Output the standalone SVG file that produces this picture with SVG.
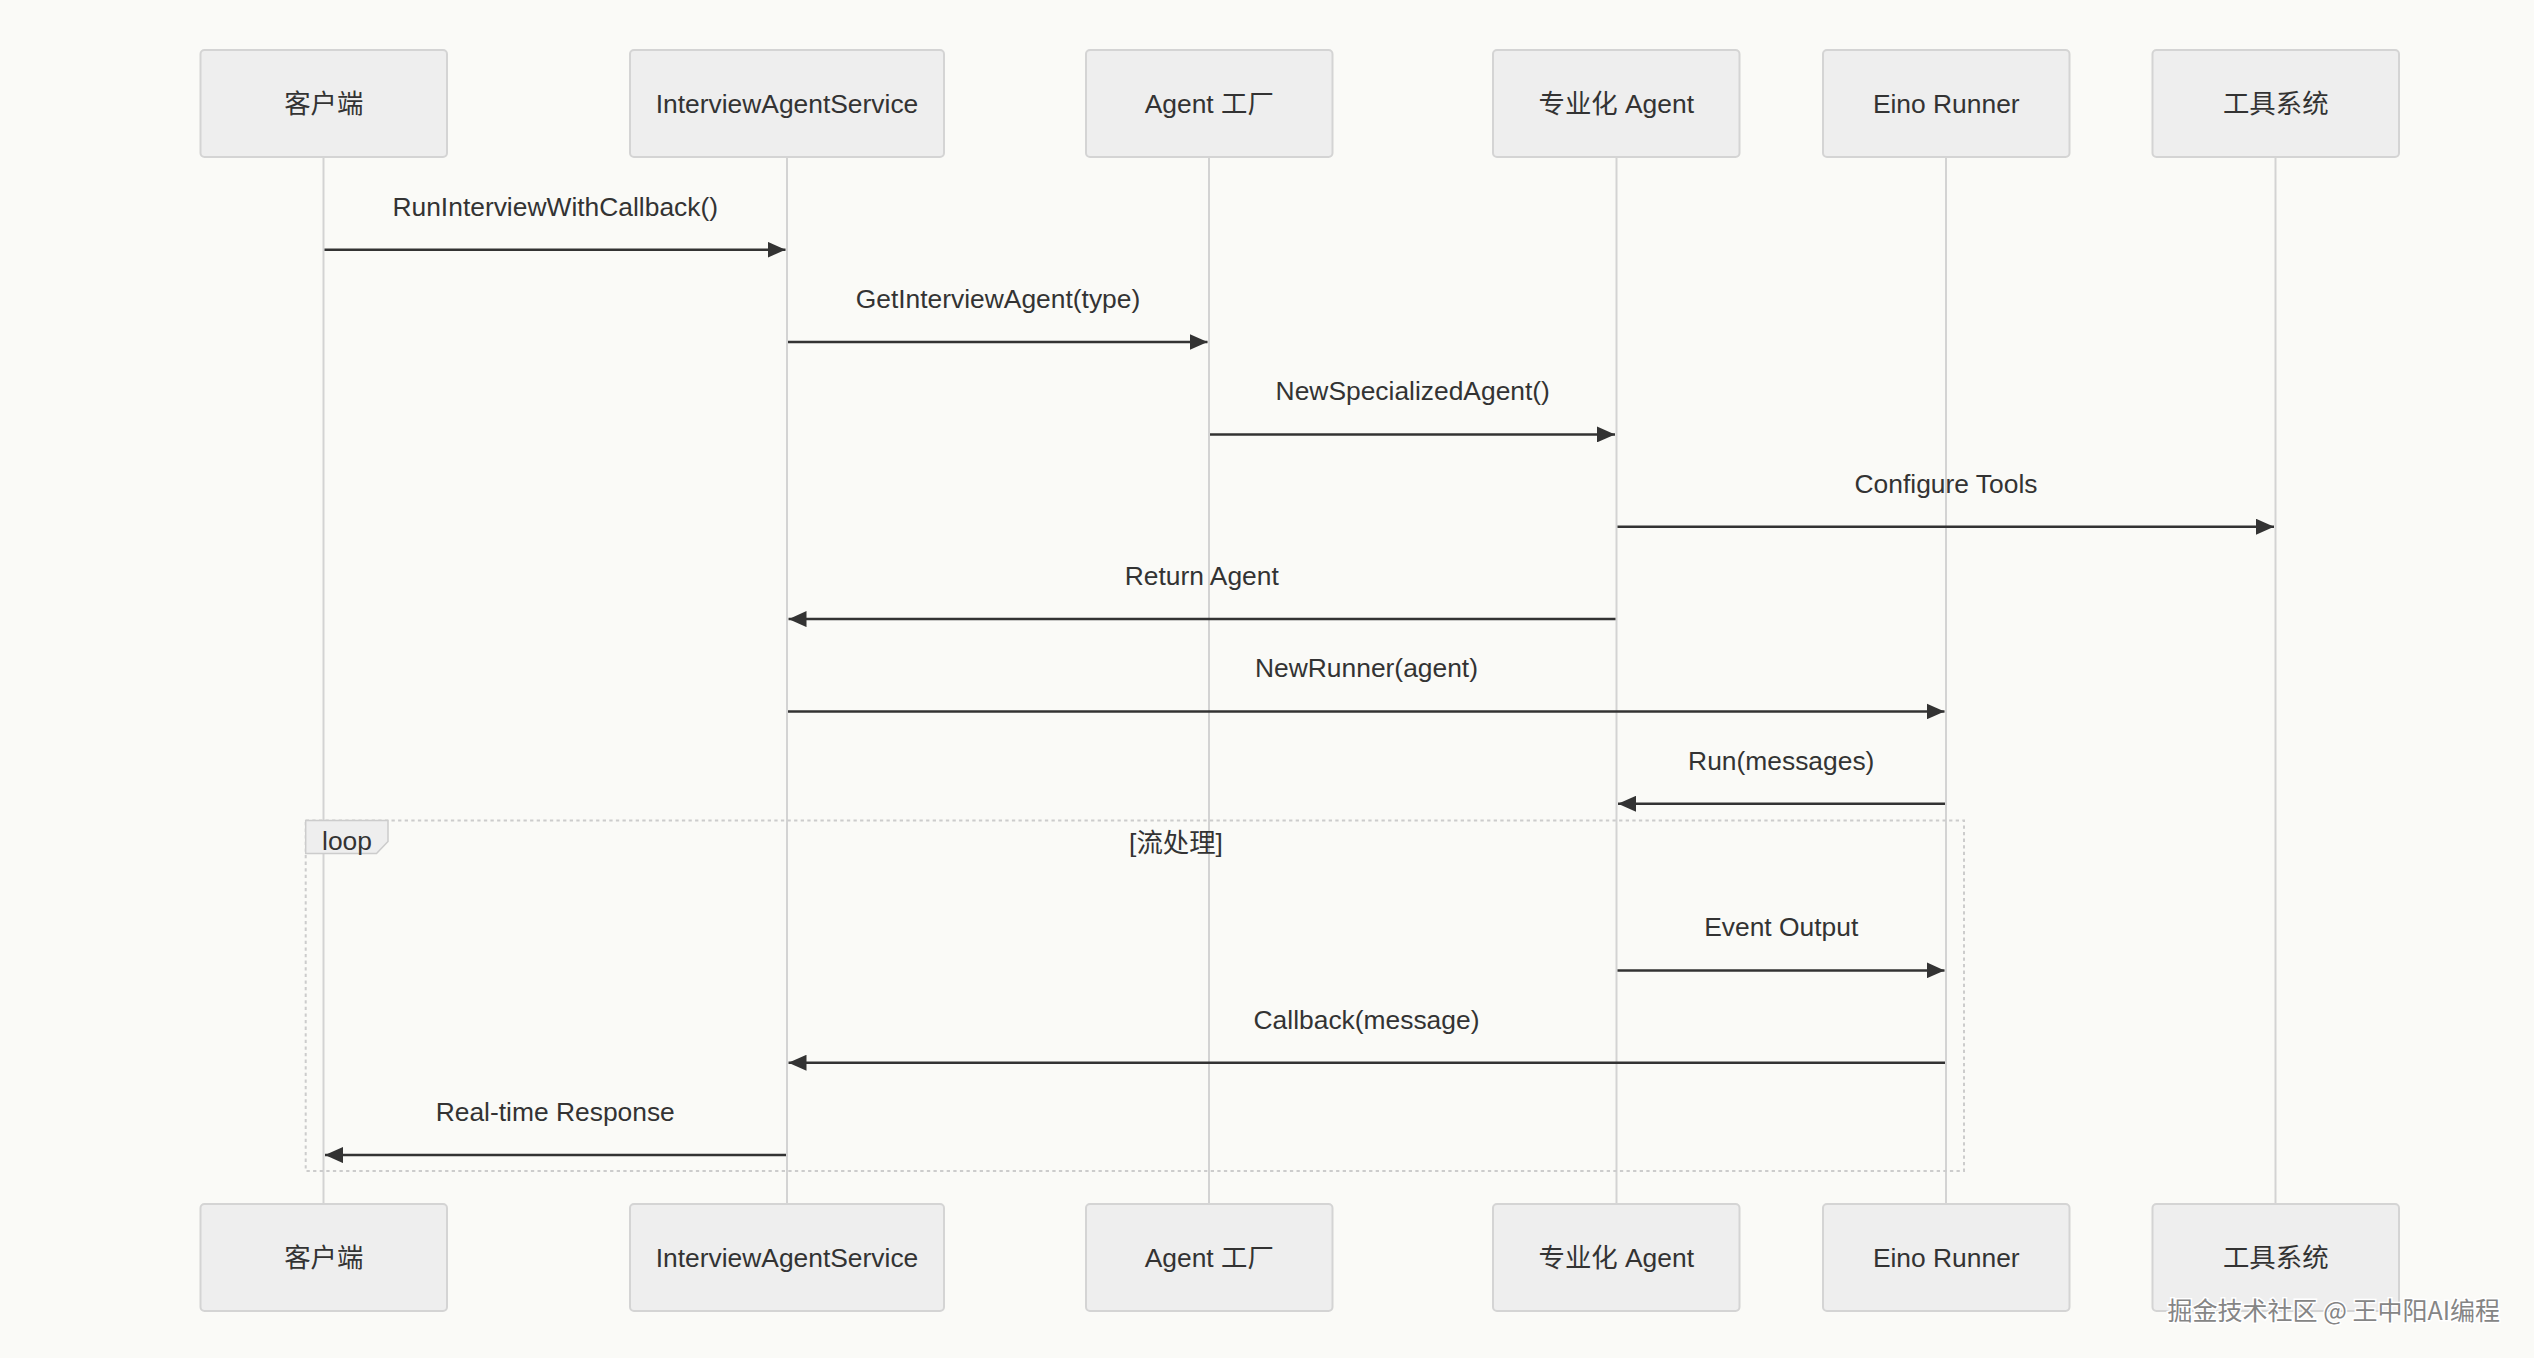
<svg xmlns="http://www.w3.org/2000/svg" width="2534" height="1358" viewBox="0 0 2534 1358">
  <defs>
    <style>
      .bg { fill: #FAFAF7; }
      .actor { fill: #EEEEEE; stroke: #D4D4D4; stroke-width: 2; }
      .lbl { font-family: "Liberation Sans", "Noto Sans CJK SC", sans-serif; font-size: 26.4px; fill: #333333; text-anchor: middle; }
      .life { stroke: #D3D3D3; stroke-width: 2; fill: none; }
      .msg { stroke: #333333; stroke-width: 2.5; fill: none; marker-end: url(#arrow); }
      .loopbox { fill: none; stroke: #CCCCCC; stroke-width: 2; stroke-dasharray: 3.3 3.3; }
      .looptab { fill: #EEEEEE; stroke: #CCCCCC; stroke-width: 1.5; }
      .wm { font-family: "Noto Sans CJK SC", "Liberation Sans", sans-serif; font-size: 25px; fill: #858585; stroke: #FFFFFF; stroke-width: 3; paint-order: stroke; text-anchor: end; }
    </style>
    <marker id="arrow" markerUnits="userSpaceOnUse" markerWidth="18" markerHeight="16" refX="18" refY="8" orient="auto">
      <path d="M0,0 L18,8 L0,16 z" fill="#333333"/>
    </marker>
  </defs>

  <rect class="bg" x="0" y="0" width="2534" height="1358"/>

  <g id="lifelines">
    <line class="life" x1="323.5" y1="157" x2="323.5" y2="1204"/>
    <line class="life" x1="787" y1="157" x2="787" y2="1204"/>
    <line class="life" x1="1209" y1="157" x2="1209" y2="1204"/>
    <line class="life" x1="1616.5" y1="157" x2="1616.5" y2="1204"/>
    <line class="life" x1="1946" y1="157" x2="1946" y2="1204"/>
    <line class="life" x1="2275.5" y1="157" x2="2275.5" y2="1204"/>
  </g>

  <g id="actor-client">
    <rect class="actor" x="200.5" y="50" width="246.5" height="107" rx="4"/>
    <text class="lbl" x="323.75" y="113">客户端</text>
    <rect class="actor" x="200.5" y="1204" width="246.5" height="107" rx="4"/>
    <text class="lbl" x="323.75" y="1267">客户端</text>
  </g>
  <g id="actor-service">
    <rect class="actor" x="630" y="50" width="314" height="107" rx="4"/>
    <text class="lbl" x="787" y="113">InterviewAgentService</text>
    <rect class="actor" x="630" y="1204" width="314" height="107" rx="4"/>
    <text class="lbl" x="787" y="1267">InterviewAgentService</text>
  </g>
  <g id="actor-factory">
    <rect class="actor" x="1086" y="50" width="246.5" height="107" rx="4"/>
    <text class="lbl" x="1209.25" y="113">Agent 工厂</text>
    <rect class="actor" x="1086" y="1204" width="246.5" height="107" rx="4"/>
    <text class="lbl" x="1209.25" y="1267">Agent 工厂</text>
  </g>
  <g id="actor-specialized">
    <rect class="actor" x="1493" y="50" width="246.5" height="107" rx="4"/>
    <text class="lbl" x="1616.25" y="113">专业化 Agent</text>
    <rect class="actor" x="1493" y="1204" width="246.5" height="107" rx="4"/>
    <text class="lbl" x="1616.25" y="1267">专业化 Agent</text>
  </g>
  <g id="actor-runner">
    <rect class="actor" x="1823" y="50" width="246.5" height="107" rx="4"/>
    <text class="lbl" x="1946.25" y="113">Eino Runner</text>
    <rect class="actor" x="1823" y="1204" width="246.5" height="107" rx="4"/>
    <text class="lbl" x="1946.25" y="1267">Eino Runner</text>
  </g>
  <g id="actor-tools">
    <rect class="actor" x="2152.5" y="50" width="246.5" height="107" rx="4"/>
    <text class="lbl" x="2275.75" y="113">工具系统</text>
    <rect class="actor" x="2152.5" y="1204" width="246.5" height="107" rx="4"/>
    <text class="lbl" x="2275.75" y="1267">工具系统</text>
  </g>

  <g id="loop">
    <rect class="loopbox" x="305.7" y="820.5" width="1658.3" height="350.5"/>
    <polygon class="looptab" points="305.7,820.5 388,820.5 388,841.5 376.5,853.5 305.7,853.5"/>
    <text class="lbl" x="347" y="850">loop</text>
    <text class="lbl" x="1176" y="852">[流处理]</text>
  </g>

  <g id="connectors">
    <line class="msg" x1="324.5" y1="249.7" x2="785.5" y2="249.7"/>
    <text class="lbl" x="555.25" y="215.7">RunInterviewWithCallback()</text>

    <line class="msg" x1="788" y1="342.05" x2="1207.5" y2="342.05"/>
    <text class="lbl" x="998" y="308">GetInterviewAgent(type)</text>

    <line class="msg" x1="1210" y1="434.4" x2="1615" y2="434.4"/>
    <text class="lbl" x="1412.75" y="400.4">NewSpecializedAgent()</text>

    <line class="msg" x1="1617.5" y1="526.75" x2="2274" y2="526.75"/>
    <text class="lbl" x="1946" y="492.75">Configure Tools</text>

    <line class="msg" x1="1615.5" y1="619.1" x2="788.5" y2="619.1"/>
    <text class="lbl" x="1201.75" y="585.1">Return Agent</text>

    <line class="msg" x1="788" y1="711.45" x2="1944.5" y2="711.45"/>
    <text class="lbl" x="1366.5" y="677.45">NewRunner(agent)</text>

    <line class="msg" x1="1945" y1="803.8" x2="1618" y2="803.8"/>
    <text class="lbl" x="1781.25" y="769.8">Run(messages)</text>

    <line class="msg" x1="1617.5" y1="970.4" x2="1944.5" y2="970.4"/>
    <text class="lbl" x="1781.25" y="936.4">Event Output</text>

    <line class="msg" x1="1945" y1="1062.75" x2="788.5" y2="1062.75"/>
    <text class="lbl" x="1366.5" y="1028.75">Callback(message)</text>

    <line class="msg" x1="786" y1="1155.1" x2="325" y2="1155.1"/>
    <text class="lbl" x="555.25" y="1121.1">Real-time Response</text>
  </g>

  <text class="wm" x="2500" y="1320">掘金技术社区 @ 王中阳AI编程</text>
</svg>
